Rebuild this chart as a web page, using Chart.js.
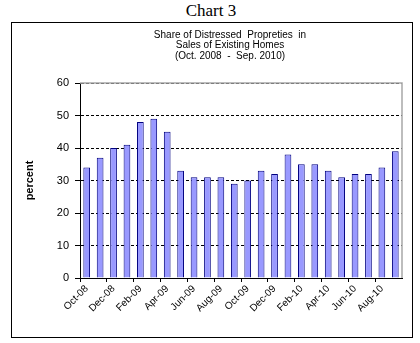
<!DOCTYPE html>
<html>
<head>
<meta charset="utf-8">
<script src="https://cdn.jsdelivr.net/npm/chart.js@4/dist/chart.umd.min.js"></script>
<style>
    body { margin: 0; background: #fff; width: 420px; height: 343px; position: relative; overflow: hidden; }
    #caption {
        position: absolute; left: 0; top: 1px; width: 422px; text-align: center;
        font-family: "Liberation Serif", "Times New Roman", serif; font-size: 17px; color: #000;
    }
    #frame {
        position: absolute; left: 11px; top: 22px; width: 402px; height: 316px;
        box-sizing: border-box; border: 1px solid #000;
    }
    #frame canvas { display: block; }
</style>
</head>
<body>
<div id="caption">Chart 3</div>
<div id="frame"><canvas id="chart" width="400" height="314"></canvas></div>
<script>
/* ===========================
   DATA
=========================== */

const months = [
    "Oct-08", "Nov-08", "Dec-08", "Jan-09", "Feb-09", "Mar-09",
    "Apr-09", "May-09", "Jun-09", "Jul-09", "Aug-09", "Sep-09",
    "Oct-09", "Nov-09", "Dec-09", "Jan-10", "Feb-10", "Mar-10",
    "Apr-10", "May-10", "Jun-10", "Jul-10", "Aug-10", "Sep-10"
];

const distressedShare = [
    34, 37, 40, 41, 48, 49, 45, 33, 31, 31, 31, 29,
    30, 33, 32, 38, 35, 35, 33, 31, 32, 32, 34, 39
];

const titleLines = [
    "Share of Distressed  Propreties  in",
    "Sales of Existing Homes",
    "(Oct. 2008  -  Sep. 2010)"
];

const yTicks = { min: 0, max: 60, step: 10 };

/* ===========================
   PLUGINS
=========================== */

// centred title block above the plot
const titleBlock = {
    id: "titleBlock",
    afterDraw(chart) {
        const ctx = chart.ctx;
        ctx.save();
        ctx.font = "10px 'Liberation Sans', Arial, sans-serif";
        ctx.fillStyle = "#000";
        ctx.textAlign = "center";
        ctx.textBaseline = "middle";
        titleLines.forEach((line, i) => {
            ctx.fillText(line, 218, 12 + i * 10.5);
        });
        ctx.restore();
    }
};

// grey top/right edge of the plot area
const plotFrame = {
    id: "plotFrame",
    afterDraw(chart) {
        const a = chart.chartArea;
        const ctx = chart.ctx;
        ctx.save();
        ctx.strokeStyle = "#a8a8a8";
        ctx.lineWidth = 1.5;
        ctx.beginPath();
        ctx.moveTo(a.left, a.top);
        ctx.lineTo(a.right, a.top);
        ctx.lineTo(a.right, a.bottom);
        ctx.stroke();
        ctx.restore();
    }
};

/* ===========================
   CHART
=========================== */

Chart.defaults.font.family = "'Liberation Sans', Arial, sans-serif";
Chart.defaults.color = "#000";

new Chart(document.getElementById("chart"), {
    type: "bar",

    data: {
        labels: months,
        datasets: [
            {
                label: "Share of distressed properties",
                data: distressedShare,
                backgroundColor: "#9999ff",
                borderColor: "#000080",
                borderWidth: 1,
                categoryPercentage: 1,
                barPercentage: 0.5
            }
        ]
    },

    options: {
        responsive: false,
        animation: false,
        devicePixelRatio: 1,

        layout: {
            padding: { top: 60, right: 10, bottom: 0, left: 0 }
        },

        plugins: {
            legend: { display: false },
            title: { display: false },
            tooltip: { enabled: false }
        },

        scales: {
            x: {
                offset: true,
                afterFit(scale) {
                    scale.height = 59;
                },
                grid: {
                    offset: true,
                    drawOnChartArea: false,
                    tickLength: 4,
                    color: (c) => (c.index % 2 === 0 ? "#000" : "rgba(0,0,0,0)")
                },
                border: { color: "#000", width: 1 },
                ticks: {
                    autoSkip: false,
                    maxRotation: 45,
                    minRotation: 45,
                    padding: 1,
                    font: { size: 10 },
                    callback: (value, index) => (index % 2 === 0 ? months[index] : "")
                }
            },

            y: {
                min: yTicks.min,
                max: yTicks.max,
                afterFit(scale) {
                    scale.width = 68;
                },
                grid: {
                    color: "#000",
                    lineWidth: 1,
                    tickLength: 5,
                    tickBorderDash: []
                },
                border: { color: "#000", width: 1, dash: [3, 2] },
                ticks: {
                    stepSize: yTicks.step,
                    padding: 6,
                    font: { size: 11 }
                },
                title: {
                    display: true,
                    text: "percent",
                    font: { size: 11, weight: "bold" },
                    padding: { top: 11, bottom: 0 }
                }
            }
        }
    },

    plugins: [titleBlock, plotFrame]
});
</script>
</body>
</html>
